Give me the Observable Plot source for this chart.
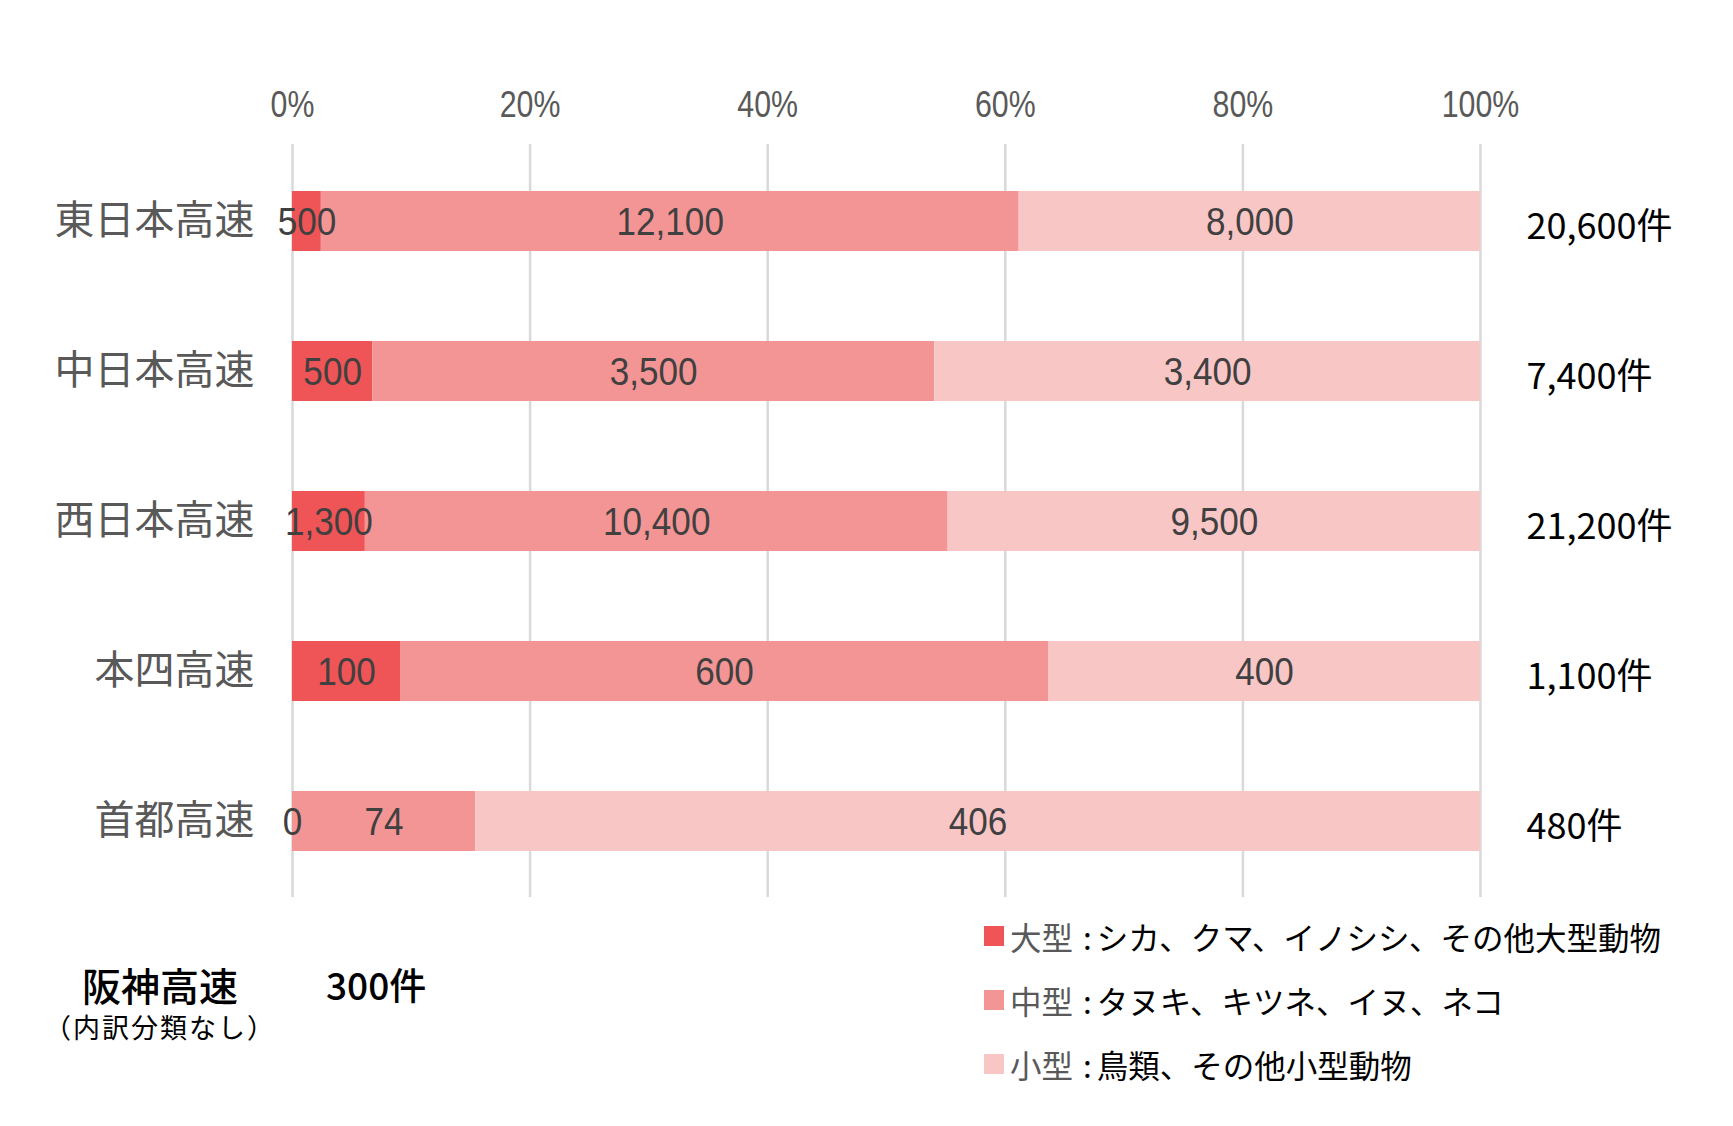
<!DOCTYPE html>
<html>
<head>
<meta charset="utf-8">
<script src="https://cdn.jsdelivr.net/npm/d3@7"></script>
<script src="https://cdn.jsdelivr.net/npm/@observablehq/plot@0.6"></script>
<style>
  body { margin: 0; background: #fff; }
  #wrap { position: relative; width: 1733px; height: 1126px; font-family: "Noto Sans CJK JP", sans-serif; }
  #below { position: relative; width: 1733px; height: 226px; }
  .legend { position: absolute; left: 984px; top: 4px; }
  .row { height: 64px; line-height: 64px; font-size: 31.5px; color: #000; white-space: nowrap; display: flex; align-items: center; }
  .sw { width: 20px; height: 20px; margin-right: 6px; display: inline-block; }
  .cat { color: #595959; }
  .colon { margin: 0 5px 0 10px; }
  .hanshin { position: absolute; left: 40px; top: 64px; width: 240px; text-align: center; font-size: 39px; line-height: 40px; color: #000; font-weight: 500; }
  .note { position: absolute; left: 30px; top: 112px; width: 260px; text-align: center; font-size: 27px; line-height: 30px; letter-spacing: 2px; color: #000; }
  .hcount { position: absolute; left: 326px; top: 64px; font-size: 37px; line-height: 40px; color: #000; font-weight: 500; }
</style>
</head>
<body>
<div id="wrap"></div>
<script>
const roads = ["東日本高速", "中日本高速", "西日本高速", "本四高速", "首都高速"];
const sizes = ["大型", "中型", "小型"];
const large = [500, 500, 1300, 100, 0];
const medium = [12100, 3500, 10400, 600, 74];
const small = [8000, 3400, 9500, 400, 406];
const colors = ["#EF5456", "#F49595", "#F9C6C6"];
const legendTexts = ["シカ、クマ、イノシシ、その他大型動物", "タヌキ、キツネ、イヌ、ネコ", "鳥類、その他小型動物"];
const xTicks = [0, 0.2, 0.4, 0.6, 0.8, 1];
const hanshinName = "阪神高速";
const hanshinNote = "（内訳分類なし）";
const hanshinCount = 300;

const series = [large, medium, small];
const data = [];
roads.forEach((r, i) => sizes.forEach((s, j) => data.push({road: r, size: s, value: series[j][i]})));
const totals = roads.map((r, i) => ({road: r, total: large[i] + medium[i] + small[i]}));
const fmt = d3.format(",");

const VALUE_FONT = "Liberation Sans, Arial, sans-serif";
const TICK_FONT = "'Liberation Sans', Arial, sans-serif";

const chart = Plot.plot({
  width: 1733,
  height: 900,
  marginTop: 144,
  marginBottom: 3,
  marginLeft: 292,
  marginRight: 253,
  style: {background: "#fff", overflow: "visible"},
  x: {domain: [0, 1], axis: null, label: null},
  y: {domain: roads, paddingInner: 0.6, paddingOuter: 0.3, axis: null, label: null},
  color: {domain: sizes, range: colors},
  marks: [
    Plot.gridX(xTicks, {stroke: "#d9d9d9", strokeOpacity: 1, strokeWidth: 2.5}),
    Plot.axisX(xTicks, {anchor: "top", label: null, tickSize: 0, tickPadding: 28, tickFormat: d3.format(".0%"),
      fontSize: 37, fill: "#595959", fontFamily: TICK_FONT}),
    Plot.axisY({anchor: "left", label: null, tickSize: 0, tickPadding: 38, fontSize: 40, fill: "#595959",
      fontFamily: "'Noto Sans CJK JP', sans-serif"}),
    Plot.barX(data, Plot.stackX({offset: "normalize", x: "value", y: "road", fill: "size", order: sizes})),
    Plot.text(data, Plot.stackX({offset: "normalize", x: "value", y: "road", z: "size", order: sizes,
      text: d => fmt(d.value), fontSize: 39, fill: "#404040", dy: 1, fontFamily: VALUE_FONT})),
    Plot.text(totals, {x: () => 1, y: "road", text: d => fmt(d.total) + "件", textAnchor: "start", dx: 46, dy: 6,
      fontSize: 36, fill: "#000", fontFamily: "'Noto Sans CJK JP', sans-serif"})
  ]
});

// condensed look for the numeric labels (no narrow font installed)
function squeeze(family, k) {
  chart.querySelectorAll("g[font-family]").forEach(g => {
    if (g.getAttribute("font-family") !== family) return;
    g.querySelectorAll("text").forEach(t => {
      const tr = t.getAttribute("transform") || "";
      t.setAttribute("transform", tr + ` scale(${k},1)`);
    });
  });
}
squeeze(VALUE_FONT, 0.9);
squeeze(TICK_FONT, 0.82);

const wrap = document.getElementById("wrap");
wrap.appendChild(chart);

const below = document.createElement("div");
below.id = "below";
const lg = document.createElement("div");
lg.className = "legend";
sizes.forEach((s, j) => {
  const row = document.createElement("div");
  row.className = "row";
  row.innerHTML = `<span class="sw" style="background:${colors[j]}"></span><span class="cat">${s}</span><span class="colon">:</span><span>${legendTexts[j]}</span>`;
  lg.appendChild(row);
});
below.appendChild(lg);
const hn = document.createElement("div"); hn.className = "hanshin"; hn.textContent = hanshinName; below.appendChild(hn);
const nt = document.createElement("div"); nt.className = "note"; nt.textContent = hanshinNote; below.appendChild(nt);
const hc = document.createElement("div"); hc.className = "hcount"; hc.textContent = fmt(hanshinCount) + "件"; below.appendChild(hc);
wrap.appendChild(below);
</script>
</body>
</html>
